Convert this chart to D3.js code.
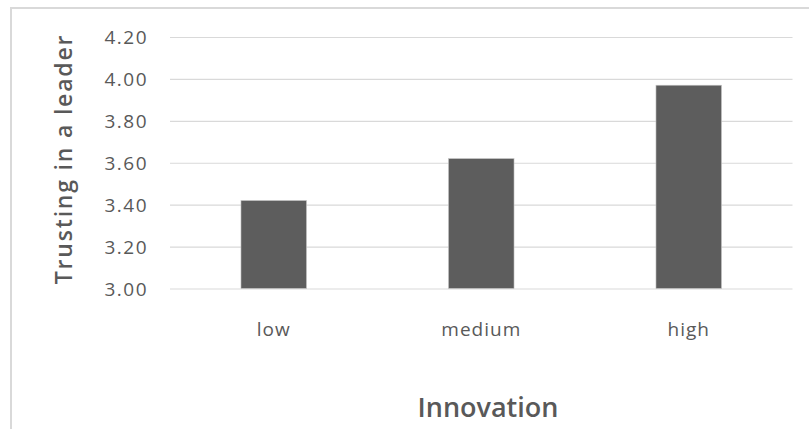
<!DOCTYPE html>
<html>
<head>
<meta charset="utf-8">
<script src="https://cdn.jsdelivr.net/npm/d3@7"></script>
<style>
  html, body { margin: 0; padding: 0; background: #fff; }
  svg { display: block; }
  text { font-family: "Open Sans", sans-serif; fill: #595959; }
</style>
</head>
<body>
<script>
// Mean trust in a leader by level of innovation
const categories = ["low", "medium", "high"];
const values = [3.42, 3.62, 3.97];
const yTicks = [3.0, 3.2, 3.4, 3.6, 3.8, 4.0, 4.2];
const xTitle = "Innovation";
const yTitle = "Trusting in a leader";

const W = 809, H = 429;
const plot = { left: 170, right: 792.5, top: 37, bottom: 288.5 };

const svg = d3.select("body").append("svg")
  .attr("width", W).attr("height", H);

// chart frame
svg.append("rect")
  .attr("x", 11).attr("y", 8)
  .attr("width", W + 20).attr("height", H + 20)
  .attr("fill", "#fff")
  .attr("stroke", "#d9d9d9")
  .attr("stroke-width", 2);

const x = d3.scaleBand()
  .domain(categories)
  .range([plot.left, plot.right])
  .paddingInner(0.684)
  .paddingOuter(0.342);

const y = d3.scaleLinear()
  .domain([3.0, 4.2])
  .range([plot.bottom, plot.top]);

// horizontal gridlines
const yAxis = d3.axisLeft(y)
  .tickValues(yTicks)
  .tickFormat(d3.format(".2f"))
  .tickSize(-(plot.right - plot.left))
  .tickPadding(22);

const gy = svg.append("g")
  .attr("transform", `translate(${plot.left},0)`)
  .call(yAxis);
gy.select(".domain").remove();
gy.selectAll(".tick line")
  .attr("stroke", "#d9d9d9")
  .attr("stroke-width", 1.2);
gy.selectAll(".tick text")
  .attr("font-size", 19)
  .attr("letter-spacing", 1.5)
  .attr("dy", "0.36em")
  .style("font-family", "'Open Sans', sans-serif")
  .attr("fill", "#595959");

// bars
svg.append("g")
  .selectAll("rect")
  .data(categories.map((c, i) => ({ c, v: values[i] })))
  .join("rect")
  .attr("x", d => x(d.c))
  .attr("y", d => y(d.v))
  .attr("width", x.bandwidth())
  .attr("height", d => y(3.0) - y(d.v))
  .attr("fill", "#5d5d5d")
  .attr("stroke", "#c8c8c8")
  .attr("stroke-width", 0.6);

// category labels
const xAxis = d3.axisBottom(x).tickSize(0).tickPadding(0);
const gx = svg.append("g")
  .attr("transform", `translate(0,${plot.bottom})`)
  .call(xAxis);
gx.select(".domain").remove();
gx.selectAll(".tick text")
  .attr("y", 47)
  .attr("dy", 0)
  .attr("font-size", 19)
  .attr("letter-spacing", 1)
  .style("font-family", "'Open Sans', sans-serif")
  .attr("fill", "#595959");

// axis titles
svg.append("text")
  .attr("x", 488).attr("y", 417)
  .attr("text-anchor", "middle")
  .attr("font-size", 27)
  .attr("font-weight", 600)
  .text(xTitle);

svg.append("text")
  .attr("transform", "translate(72,159) rotate(-90)")
  .attr("text-anchor", "middle")
  .attr("font-size", 23)
  .attr("font-weight", 600)
  .attr("letter-spacing", 1.8)
  .text(yTitle);
</script>
</body>
</html>
